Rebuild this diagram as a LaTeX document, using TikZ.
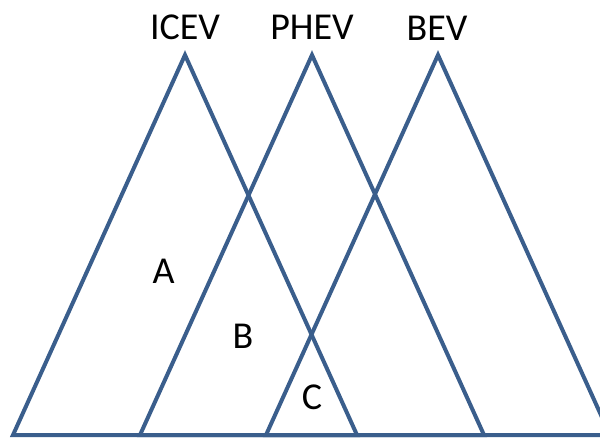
\documentclass[tikz,border=0pt]{standalone}
\usepackage{fontspec}
\setmainfont{Carlito}
\definecolor{edgeblue}{HTML}{3A5E8C}
\begin{document}
\begin{tikzpicture}[x=1pt,y=-1pt,
    tri/.style={draw=edgeblue,line width=4pt,line join=miter},
    lbl/.style={font=\fontsize{38}{42}\selectfont,inner sep=0pt,text=black}]
  \useasboundingbox (0,0) rectangle (600,437);
  \clip (0,0) rectangle (600,437);
  % apexes and base corners of the three triangles
  \coordinate (iA) at (185,55);  \coordinate (iL) at (13,435);  \coordinate (iR) at (357,435);
  \coordinate (pA) at (312,55);  \coordinate (pL) at (140,435); \coordinate (pR) at (484,435);
  \coordinate (bA) at (438,55);  \coordinate (bL) at (266,435); \coordinate (bR) at (610,435);
  \draw[tri] (iL) -- (iA) -- (iR) -- cycle;
  \draw[tri] (pL) -- (pA) -- (pR) -- cycle;
  \draw[tri] (bL) -- (bA) -- (bR) -- cycle;
  % titles
  \node[lbl] (ticev) at (185,27) {ICEV};
  \node[lbl] (tphev) at (312,27) {PHEV};
  \node[lbl] (tbev)  at (437,28) {BEV};
  % region labels
  \node[lbl] (ra) at (163.5,271.5) {A};
  \node[lbl] (rb) at (243,336.5) {B};
  \node[lbl] (rc) at (312,397) {C};
\end{tikzpicture}
\end{document}
